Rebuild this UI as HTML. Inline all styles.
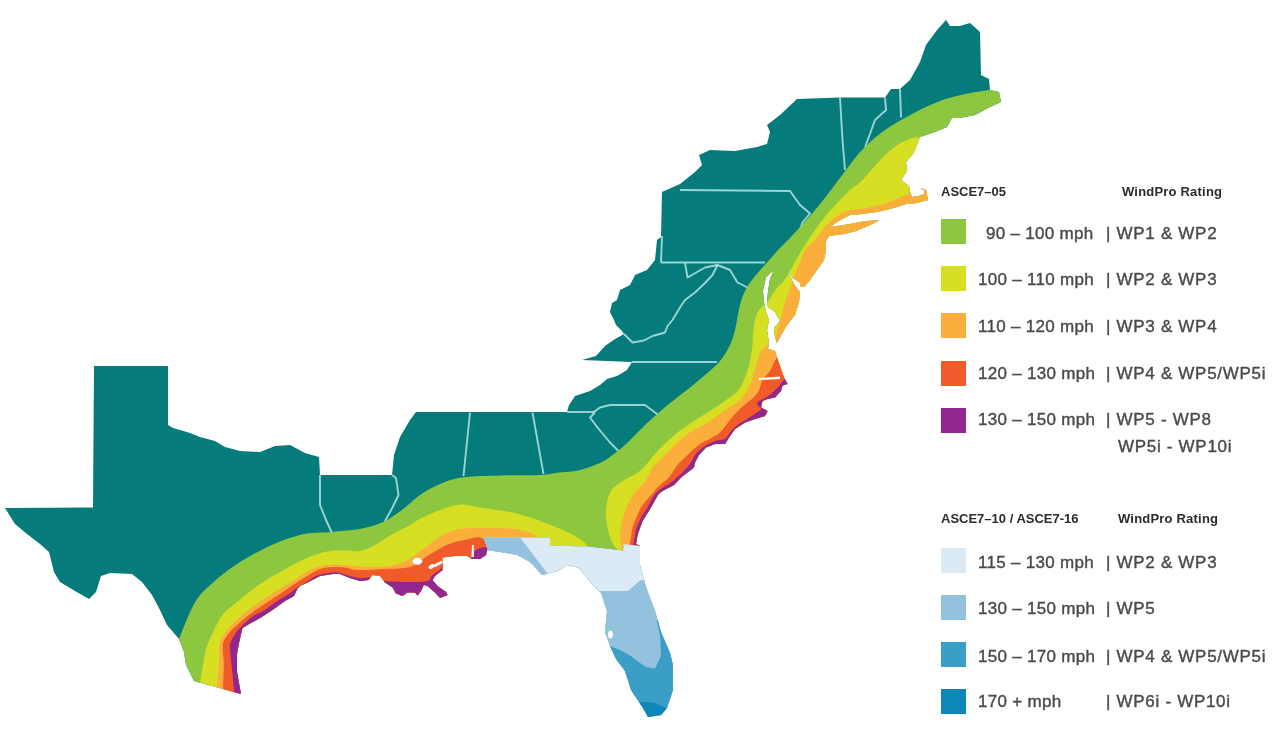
<!DOCTYPE html><html><head><meta charset="utf-8"><title>Wind zone map</title><style>
html,body{margin:0;padding:0;background:#fff}
body{width:1280px;height:746px;position:relative;overflow:hidden;font-family:"Liberation Sans",sans-serif;color:#4a4a4a}
.sw{position:absolute;left:941px;width:25px;height:25px;filter:blur(0.6px)}
.t{position:absolute;font-size:17px;line-height:20px;white-space:nowrap;letter-spacing:0.3px;filter:blur(0.7px);-webkit-text-stroke:0.4px #4a4a4a}
.r{letter-spacing:0.7px}
.h{position:absolute;font-size:13px;line-height:16px;font-weight:bold;color:#2b2b2b;white-space:nowrap;filter:blur(0.7px)}
</style></head><body>
<svg width="1280" height="746" viewBox="0 0 1280 746" style="position:absolute;left:0;top:0;filter:blur(0.55px)">
<defs><clipPath id="land"><path d="M94.0,366.0 L168.0,366.0 L168.0,425.0 L173.0,428.0 L180.0,430.0 L190.0,433.0 L200.0,437.0 L215.0,441.0 L225.0,447.0 L240.0,451.0 L260.0,452.0 L275.0,446.0 L290.0,445.0 L305.0,453.0 L319.0,457.0 L320.0,475.0 L392.0,475.0 L394.0,455.0 L400.0,437.0 L410.0,420.0 L416.0,412.0 L567.0,412.0 L569.0,405.0 L575.0,396.0 L590.0,391.0 L600.0,385.0 L607.0,379.0 L617.0,376.0 L627.0,370.0 L632.0,362.0 L582.0,360.0 L596.0,356.0 L605.0,346.0 L615.0,339.0 L624.0,334.0 L622.0,331.0 L616.0,325.0 L614.0,320.0 L610.0,312.0 L612.0,303.0 L617.0,300.0 L620.0,290.0 L630.0,285.0 L635.0,275.0 L647.0,270.0 L655.0,260.0 L657.0,240.0 L661.0,237.0 L662.0,192.0 L680.0,184.0 L695.0,172.0 L702.0,165.0 L699.0,155.0 L710.0,150.0 L735.0,151.0 L757.0,147.0 L767.0,144.0 L770.0,132.0 L767.0,125.0 L780.0,115.0 L797.0,99.0 L840.0,97.5 L885.0,97.5 L891.0,89.0 L900.0,89.0 L910.0,80.0 L920.0,62.0 L926.0,45.0 L937.0,30.0 L946.0,20.0 L950.0,26.0 L960.0,26.0 L970.0,23.0 L980.0,32.0 L981.0,75.0 L989.0,79.0 L990.0,90.0 L999.0,92.0 L1001.0,102.0 L990.0,107.0 L975.0,115.0 L960.0,118.0 L952.0,118.0 L947.0,127.0 L935.0,132.0 L920.0,137.0 L915.0,150.0 L912.0,155.0 L906.0,162.0 L907.0,171.0 L901.0,180.0 L909.0,186.0 L910.0,192.0 L912.0,197.0 L919.0,196.0 L924.0,194.0 L924.0,190.0 L920.0,188.0 L926.0,190.0 L928.0,200.0 L920.0,202.0 L912.0,204.0 L906.0,204.0 L900.0,206.0 L890.0,209.0 L877.0,212.0 L862.0,214.0 L850.0,215.0 L840.0,220.0 L834.0,224.0 L831.0,227.0 L850.0,224.0 L865.0,221.0 L879.0,220.5 L870.0,225.0 L856.0,231.0 L844.0,234.0 L829.0,236.0 L826.0,241.0 L826.0,250.0 L824.0,260.0 L817.0,270.0 L810.0,280.0 L804.0,287.0 L801.0,287.0 L800.0,283.0 L792.0,277.0 L786.0,267.0 L790.0,276.0 L795.0,286.0 L800.0,292.0 L799.0,302.0 L795.0,315.0 L787.0,325.0 L780.0,337.0 L777.0,343.0 L775.0,337.0 L774.0,328.0 L780.0,321.0 L775.0,312.0 L768.0,307.0 L767.0,302.0 L768.0,291.0 L770.0,279.0 L774.0,270.0 L766.0,277.0 L763.0,291.0 L764.0,302.0 L766.0,312.0 L769.0,320.0 L767.0,330.0 L769.0,343.0 L768.0,349.0 L775.0,351.0 L777.5,359.0 L781.0,369.0 L784.0,377.5 L787.5,384.0 L782.5,385.5 L781.0,391.0 L775.0,397.5 L767.5,399.0 L762.5,401.0 L761.0,407.5 L767.5,411.0 L765.0,416.0 L755.0,419.0 L745.0,422.5 L735.0,429.0 L729.0,437.5 L725.0,444.0 L715.0,444.0 L706.0,447.5 L699.0,455.0 L695.0,462.5 L694.0,467.5 L687.5,472.5 L681.0,477.5 L674.0,485.0 L662.5,491.0 L658.5,494.0 L650.0,509.0 L642.5,521.0 L637.5,535.0 L636.0,544.0 L640.0,546.0 L640.0,565.0 L646.0,587.0 L655.0,611.0 L661.0,632.0 L670.0,653.0 L673.0,665.0 L673.0,690.0 L667.0,708.0 L661.0,715.0 L648.0,717.0 L643.0,708.0 L631.0,690.0 L625.0,671.0 L616.0,659.0 L610.0,646.0 L605.0,632.0 L607.0,611.0 L601.0,593.0 L592.0,584.0 L579.0,568.0 L567.0,565.0 L558.0,571.0 L546.0,574.0 L542.0,575.0 L530.0,562.0 L517.0,555.0 L500.0,552.0 L487.0,550.0 L486.0,555.0 L480.0,559.0 L472.0,559.0 L467.0,556.0 L455.0,556.0 L442.5,557.5 L442.5,570.0 L435.0,576.0 L432.5,580.0 L437.5,586.0 L446.0,592.0 L447.5,595.0 L440.0,598.0 L435.0,592.5 L427.5,586.0 L423.8,585.0 L421.0,591.0 L417.5,595.5 L415.0,592.5 L407.5,592.5 L402.5,596.0 L396.0,593.5 L392.5,587.5 L385.0,582.5 L380.0,576.0 L372.5,575.0 L368.5,580.0 L360.0,581.0 L350.0,578.0 L340.0,574.0 L332.5,574.0 L320.0,576.0 L307.5,582.5 L300.0,586.0 L297.5,588.5 L294.0,596.0 L285.0,601.0 L272.5,610.0 L261.0,617.5 L250.0,623.5 L242.5,628.0 L239.0,643.0 L237.0,654.0 L237.0,672.0 L241.0,694.0 L194.0,681.0 L186.0,665.0 L184.0,652.0 L179.0,639.0 L167.0,625.0 L160.0,610.0 L152.0,595.0 L142.0,582.0 L132.0,574.0 L110.0,573.0 L101.0,576.0 L96.0,592.0 L89.0,599.0 L75.0,591.0 L60.0,582.0 L54.0,572.0 L49.0,552.0 L40.0,544.0 L27.0,534.0 L15.0,524.0 L5.0,508.0 L93.0,507.5Z"/></clipPath><clipPath id="nofl"><path clip-rule="evenodd" d="M0,0H1280V746H0Z M483.5,537.5 L550.0,537.5 L550.0,545.5 L587.5,546.5 L619.0,550.0 L623.0,551.0 L623.5,544.0 L640.0,546.0 L700.0,546.0 L700.0,745.0 L492.0,745.0 L490.0,560.0 L487.5,548.5Z"/></clipPath></defs>
<g id="map">
<path d="M94.0,366.0 L168.0,366.0 L168.0,425.0 L173.0,428.0 L180.0,430.0 L190.0,433.0 L200.0,437.0 L215.0,441.0 L225.0,447.0 L240.0,451.0 L260.0,452.0 L275.0,446.0 L290.0,445.0 L305.0,453.0 L319.0,457.0 L320.0,475.0 L392.0,475.0 L394.0,455.0 L400.0,437.0 L410.0,420.0 L416.0,412.0 L567.0,412.0 L569.0,405.0 L575.0,396.0 L590.0,391.0 L600.0,385.0 L607.0,379.0 L617.0,376.0 L627.0,370.0 L632.0,362.0 L582.0,360.0 L596.0,356.0 L605.0,346.0 L615.0,339.0 L624.0,334.0 L622.0,331.0 L616.0,325.0 L614.0,320.0 L610.0,312.0 L612.0,303.0 L617.0,300.0 L620.0,290.0 L630.0,285.0 L635.0,275.0 L647.0,270.0 L655.0,260.0 L657.0,240.0 L661.0,237.0 L662.0,192.0 L680.0,184.0 L695.0,172.0 L702.0,165.0 L699.0,155.0 L710.0,150.0 L735.0,151.0 L757.0,147.0 L767.0,144.0 L770.0,132.0 L767.0,125.0 L780.0,115.0 L797.0,99.0 L840.0,97.5 L885.0,97.5 L891.0,89.0 L900.0,89.0 L910.0,80.0 L920.0,62.0 L926.0,45.0 L937.0,30.0 L946.0,20.0 L950.0,26.0 L960.0,26.0 L970.0,23.0 L980.0,32.0 L981.0,75.0 L989.0,79.0 L990.0,90.0 L999.0,92.0 L1001.0,102.0 L990.0,107.0 L975.0,115.0 L960.0,118.0 L952.0,118.0 L947.0,127.0 L935.0,132.0 L920.0,137.0 L915.0,150.0 L912.0,155.0 L906.0,162.0 L907.0,171.0 L901.0,180.0 L909.0,186.0 L910.0,192.0 L912.0,197.0 L919.0,196.0 L924.0,194.0 L924.0,190.0 L920.0,188.0 L926.0,190.0 L928.0,200.0 L920.0,202.0 L912.0,204.0 L906.0,204.0 L900.0,206.0 L890.0,209.0 L877.0,212.0 L862.0,214.0 L850.0,215.0 L840.0,220.0 L834.0,224.0 L831.0,227.0 L850.0,224.0 L865.0,221.0 L879.0,220.5 L870.0,225.0 L856.0,231.0 L844.0,234.0 L829.0,236.0 L826.0,241.0 L826.0,250.0 L824.0,260.0 L817.0,270.0 L810.0,280.0 L804.0,287.0 L801.0,287.0 L800.0,283.0 L792.0,277.0 L786.0,267.0 L790.0,276.0 L795.0,286.0 L800.0,292.0 L799.0,302.0 L795.0,315.0 L787.0,325.0 L780.0,337.0 L777.0,343.0 L775.0,337.0 L774.0,328.0 L780.0,321.0 L775.0,312.0 L768.0,307.0 L767.0,302.0 L768.0,291.0 L770.0,279.0 L774.0,270.0 L766.0,277.0 L763.0,291.0 L764.0,302.0 L766.0,312.0 L769.0,320.0 L767.0,330.0 L769.0,343.0 L768.0,349.0 L775.0,351.0 L777.5,359.0 L781.0,369.0 L784.0,377.5 L787.5,384.0 L782.5,385.5 L781.0,391.0 L775.0,397.5 L767.5,399.0 L762.5,401.0 L761.0,407.5 L767.5,411.0 L765.0,416.0 L755.0,419.0 L745.0,422.5 L735.0,429.0 L729.0,437.5 L725.0,444.0 L715.0,444.0 L706.0,447.5 L699.0,455.0 L695.0,462.5 L694.0,467.5 L687.5,472.5 L681.0,477.5 L674.0,485.0 L662.5,491.0 L658.5,494.0 L650.0,509.0 L642.5,521.0 L637.5,535.0 L636.0,544.0 L640.0,546.0 L640.0,565.0 L646.0,587.0 L655.0,611.0 L661.0,632.0 L670.0,653.0 L673.0,665.0 L673.0,690.0 L667.0,708.0 L661.0,715.0 L648.0,717.0 L643.0,708.0 L631.0,690.0 L625.0,671.0 L616.0,659.0 L610.0,646.0 L605.0,632.0 L607.0,611.0 L601.0,593.0 L592.0,584.0 L579.0,568.0 L567.0,565.0 L558.0,571.0 L546.0,574.0 L542.0,575.0 L530.0,562.0 L517.0,555.0 L500.0,552.0 L487.0,550.0 L486.0,555.0 L480.0,559.0 L472.0,559.0 L467.0,556.0 L455.0,556.0 L442.5,557.5 L442.5,570.0 L435.0,576.0 L432.5,580.0 L437.5,586.0 L446.0,592.0 L447.5,595.0 L440.0,598.0 L435.0,592.5 L427.5,586.0 L423.8,585.0 L421.0,591.0 L417.5,595.5 L415.0,592.5 L407.5,592.5 L402.5,596.0 L396.0,593.5 L392.5,587.5 L385.0,582.5 L380.0,576.0 L372.5,575.0 L368.5,580.0 L360.0,581.0 L350.0,578.0 L340.0,574.0 L332.5,574.0 L320.0,576.0 L307.5,582.5 L300.0,586.0 L297.5,588.5 L294.0,596.0 L285.0,601.0 L272.5,610.0 L261.0,617.5 L250.0,623.5 L242.5,628.0 L239.0,643.0 L237.0,654.0 L237.0,672.0 L241.0,694.0 L194.0,681.0 L186.0,665.0 L184.0,652.0 L179.0,639.0 L167.0,625.0 L160.0,610.0 L152.0,595.0 L142.0,582.0 L132.0,574.0 L110.0,573.0 L101.0,576.0 L96.0,592.0 L89.0,599.0 L75.0,591.0 L60.0,582.0 L54.0,572.0 L49.0,552.0 L40.0,544.0 L27.0,534.0 L15.0,524.0 L5.0,508.0 L93.0,507.5Z" fill="#057c7b"/>
<g fill="none" stroke="#b0dfe0" stroke-width="1.9" stroke-opacity="0.88" stroke-linejoin="round">
<path d="M320.0,475.0 L320.0,505.0 L326.0,520.0 L332.0,533.0"/>
<path d="M392.0,475.0 L396.0,478.0 L398.5,495.0 L392.5,507.5 L385.0,521.0"/>
<path d="M470.0,412.5 L463.5,476.0"/>
<path d="M532.5,412.5 L543.5,474.0"/>
<path d="M595.0,412.5 L590.0,417.5 L597.5,427.5 L610.0,442.5 L617.5,450.0 L622.0,452.0"/>
<path d="M592.5,413.0 L600.0,407.5 L610.0,405.0 L645.0,405.0 L655.0,412.5 L660.0,416.0"/>
<path d="M632.0,362.0 L717.0,362.0"/>
<path d="M567.0,412.0 L595.0,412.0"/>
<path d="M624.0,334.0 L632.5,342.5 L644.0,340.5 L652.5,336.0 L665.0,332.5 L667.5,326.0 L672.5,320.0 L680.0,307.5 L685.0,300.0 L695.0,292.5 L705.0,283.0 L712.5,275.0 L717.5,265.0"/>
<path d="M685.0,262.5 L687.5,277.5 L705.0,267.5 L717.5,265.0 L730.0,270.0 L737.5,282.5 L747.5,287.5"/>
<path d="M661.0,262.5 L765.0,262.5"/>
<path d="M662.0,236.0 L661.0,262.5"/>
<path d="M680.0,190.0 L790.0,191.0 L800.0,205.0 L810.0,213.5 L802.5,222.5 L798.0,235.0"/>
<path d="M840.0,97.5 L842.5,140.0 L845.0,170.0"/>
<path d="M885.0,97.5 L886.0,110.0 L875.0,120.0 L865.0,147.5"/>
<path d="M900.0,89.0 L901.0,117.5"/>
</g>
<g clip-path="url(#land)">
<g clip-path="url(#nofl)">
<path d="M176.0,644.0 C176.5,643.2 177.5,642.3 179.0,639.0 C180.5,635.7 182.8,629.2 185.0,624.0 C187.2,618.8 189.5,612.8 192.0,608.0 C194.5,603.2 196.6,599.2 200.0,595.0 C203.4,590.8 208.3,586.8 212.5,583.0 C216.7,579.2 220.0,576.2 225.0,572.5 C230.0,568.8 236.2,564.3 242.5,560.5 C248.8,556.7 256.1,552.8 262.5,549.5 C268.9,546.2 274.8,543.4 281.0,541.0 C287.2,538.6 294.8,536.3 300.0,535.0 C305.2,533.7 307.3,533.5 312.5,533.0 C317.7,532.5 322.8,532.8 331.0,532.0 C339.2,531.2 353.0,530.3 362.0,528.5 C371.0,526.7 377.8,524.5 385.0,521.0 C392.2,517.5 399.2,511.8 405.0,507.5 C410.8,503.2 414.2,498.9 420.0,495.0 C425.8,491.1 433.0,486.9 440.0,484.0 C447.0,481.1 452.0,478.9 462.0,477.5 C472.0,476.1 487.0,475.9 500.0,475.5 C513.0,475.1 530.0,475.5 540.0,475.0 C550.0,474.5 553.7,473.2 560.0,472.5 C566.3,471.8 572.2,471.8 578.0,470.5 C583.8,469.2 590.2,466.9 595.0,465.0 C599.8,463.1 602.0,462.3 607.0,459.0 C612.0,455.7 619.5,449.8 625.0,445.0 C630.5,440.2 634.8,435.0 640.0,430.0 C645.2,425.0 650.3,420.0 656.0,415.0 C661.7,410.0 668.3,404.6 674.0,400.0 C679.7,395.4 684.8,391.7 690.0,387.5 C695.2,383.3 700.0,379.4 705.0,375.0 C710.0,370.6 715.8,366.0 720.0,361.0 C724.2,356.0 727.5,350.2 730.0,345.0 C732.5,339.8 733.3,336.7 735.0,330.0 C736.7,323.3 738.2,311.8 740.0,305.0 C741.8,298.2 743.3,294.0 746.0,289.0 C748.7,284.0 752.5,279.4 756.0,275.0 C759.5,270.6 763.3,266.7 767.0,262.5 C770.7,258.3 774.5,253.8 778.0,250.0 C781.5,246.2 784.0,244.2 788.0,240.0 C792.0,235.8 797.3,230.2 802.0,225.0 C806.7,219.8 811.2,214.8 816.0,209.0 C820.8,203.2 826.0,196.5 831.0,190.0 C836.0,183.5 840.8,176.7 846.0,170.0 C851.2,163.3 855.5,156.7 862.0,150.0 C868.5,143.3 876.2,136.2 885.0,130.0 C893.8,123.8 905.8,117.3 915.0,112.5 C924.2,107.7 931.7,104.1 940.0,101.0 C948.3,97.9 956.7,95.8 965.0,94.0 C973.3,92.2 982.5,91.0 990.0,90.0 C997.5,89.0 1006.7,88.3 1010.0,88.0 L1279.0,88.0 L1279.0,745.0 L176.0,745.0Z" fill="#8dc63f"/>
<path d="M200.0,690.0 C200.1,688.3 200.0,684.2 200.5,680.0 C201.0,675.8 201.9,670.7 203.0,665.0 C204.1,659.3 204.8,652.5 207.0,646.0 C209.2,639.5 213.2,631.5 216.0,626.0 C218.8,620.5 220.7,616.8 224.0,613.0 C227.3,609.2 232.0,606.3 236.0,603.0 C240.0,599.7 243.5,596.5 248.0,593.0 C252.5,589.5 257.3,585.7 263.0,582.0 C268.7,578.3 276.0,574.4 282.0,571.0 C288.0,567.6 293.3,564.2 299.0,561.5 C304.7,558.8 310.4,556.3 316.0,554.5 C321.6,552.7 327.2,551.2 332.5,550.5 C337.8,549.8 343.4,550.4 348.0,550.5 C352.6,550.6 355.5,551.9 360.0,551.0 C364.5,550.1 369.8,547.7 375.0,545.0 C380.2,542.3 385.2,538.3 391.0,535.0 C396.8,531.7 405.2,527.7 410.0,525.0 C414.8,522.3 415.0,521.5 420.0,519.0 C425.0,516.5 433.3,512.4 440.0,510.0 C446.7,507.6 453.3,504.9 460.0,504.5 C466.7,504.1 471.2,506.2 480.0,507.5 C488.8,508.8 502.9,510.4 512.5,512.5 C522.1,514.6 529.2,517.1 537.5,520.0 C545.8,522.9 555.8,527.1 562.5,530.0 C569.2,532.9 573.3,534.8 577.5,537.5 C581.7,540.2 585.1,542.2 587.5,546.0 C589.9,549.8 589.2,556.7 592.0,560.0 C594.8,563.3 600.0,566.0 604.0,566.0 C608.0,566.0 613.6,562.5 616.0,560.0 C618.4,557.5 618.9,553.5 618.5,551.0 C618.1,548.5 615.2,548.1 613.5,545.0 C611.8,541.9 609.8,537.5 608.5,532.5 C607.2,527.5 606.2,520.4 606.0,515.0 C605.8,509.6 606.4,504.3 607.5,500.0 C608.6,495.7 610.0,492.2 612.5,489.0 C615.0,485.8 617.8,484.2 622.5,481.0 C627.2,477.8 635.0,475.2 641.0,470.0 C647.0,464.8 652.4,456.2 658.5,450.0 C664.6,443.8 671.6,437.3 677.5,432.5 C683.4,427.7 688.6,424.6 694.0,421.0 C699.4,417.4 705.0,414.2 710.0,411.0 C715.0,407.8 719.4,404.8 724.0,401.5 C728.6,398.2 734.0,395.0 737.5,391.0 C741.0,387.0 742.9,382.5 745.0,377.5 C747.1,372.5 748.8,366.4 750.0,361.0 C751.2,355.6 751.9,350.2 752.5,345.0 C753.1,339.8 752.7,335.4 753.5,330.0 C754.3,324.6 754.9,317.5 757.5,312.5 C760.1,307.5 765.9,303.9 769.0,300.0 C772.1,296.1 773.7,292.0 776.0,289.0 C778.3,286.0 780.7,285.0 783.0,282.0 C785.3,279.0 787.8,274.7 790.0,271.0 C792.2,267.3 793.5,264.3 796.0,260.0 C798.5,255.7 801.8,250.0 805.0,245.0 C808.2,240.0 811.2,235.2 815.0,230.0 C818.8,224.8 823.3,218.8 827.5,213.8 C831.7,208.8 836.2,204.0 840.0,200.0 C843.8,196.0 846.7,192.9 850.0,190.0 C853.3,187.1 856.2,186.0 860.0,182.5 C863.8,179.0 868.3,173.3 872.5,168.8 C876.7,164.2 880.8,159.0 885.0,155.0 C889.2,151.0 893.3,147.7 897.5,145.0 C901.7,142.3 906.2,140.1 910.0,138.8 C913.8,137.4 915.0,138.1 920.0,137.0 C925.0,135.9 936.7,132.8 940.0,132.0 L1279.0,132.0 L1279.0,745.0 L200.0,745.0Z" fill="#d7df23"/>
<path d="M217.0,695.0 C217.0,694.0 216.7,694.0 217.0,689.0 C217.3,684.0 218.5,672.8 219.0,665.0 C219.5,657.2 218.5,648.0 220.0,642.0 C221.5,636.0 225.0,632.8 228.0,629.0 C231.0,625.2 234.1,622.6 238.0,619.0 C241.9,615.4 246.8,611.1 251.5,607.5 C256.2,603.9 261.5,600.8 266.5,597.5 C271.5,594.2 276.8,590.4 281.5,587.5 C286.2,584.6 290.4,582.6 294.5,580.0 C298.6,577.4 301.8,574.3 306.0,572.0 C310.2,569.7 315.6,567.2 320.0,566.0 C324.4,564.8 328.3,564.7 332.5,564.5 C336.7,564.3 340.4,564.7 345.0,565.0 C349.6,565.3 353.3,566.2 360.0,566.5 C366.7,566.8 377.9,567.2 385.0,566.5 C392.1,565.8 397.5,564.4 402.5,562.5 C407.5,560.6 410.4,558.1 415.0,555.0 C419.6,551.9 425.0,547.3 430.0,543.8 C435.0,540.2 440.0,536.2 445.0,533.8 C450.0,531.3 454.2,530.0 460.0,529.0 C465.8,528.0 473.3,528.2 480.0,528.0 C486.7,527.8 493.3,527.7 500.0,528.0 C506.7,528.3 514.2,528.8 520.0,530.0 C525.8,531.2 530.8,532.0 535.0,535.0 C539.2,538.0 537.5,541.3 545.0,548.0 C552.5,554.7 568.8,571.3 580.0,575.0 C591.2,578.7 605.2,574.0 612.0,570.0 C618.8,566.0 619.7,556.8 621.0,551.0 C622.3,545.2 619.8,540.2 620.0,535.0 C620.2,529.8 621.2,525.0 622.5,520.0 C623.8,515.0 625.4,509.6 627.5,505.0 C629.6,500.4 632.1,496.5 635.0,492.5 C637.9,488.5 642.1,485.2 645.0,481.0 C647.9,476.8 649.2,471.8 652.5,467.5 C655.8,463.2 660.6,459.4 665.0,455.0 C669.4,450.6 674.0,445.2 678.8,441.0 C683.5,436.8 688.5,433.3 693.8,430.0 C699.0,426.7 704.8,424.3 710.0,421.0 C715.2,417.7 720.0,413.5 725.0,410.0 C730.0,406.5 735.8,404.2 740.0,400.0 C744.2,395.8 747.7,389.4 750.0,385.0 C752.3,380.6 752.5,377.8 753.8,373.8 C755.0,369.8 756.3,364.8 757.5,361.0 C758.7,357.2 759.2,353.8 761.0,351.0 C762.8,348.2 765.7,346.2 768.0,344.0 C770.3,341.8 773.2,340.7 775.0,337.5 C776.8,334.3 777.8,328.3 778.8,325.0 C779.8,321.7 780.0,321.2 781.0,317.5 C782.0,313.8 783.5,307.3 785.0,302.5 C786.5,297.7 788.3,293.5 790.0,288.8 C791.7,284.0 793.3,278.1 795.0,273.8 C796.7,269.4 798.3,266.5 800.0,262.5 C801.7,258.5 802.5,253.8 805.0,250.0 C807.5,246.2 812.1,243.3 815.0,240.0 C817.9,236.7 819.8,233.2 822.5,230.0 C825.2,226.8 827.9,223.7 831.0,221.0 C834.1,218.3 837.8,215.6 841.0,213.8 C844.2,211.9 846.4,210.8 850.0,210.0 C853.6,209.2 858.3,209.4 862.5,208.8 C866.7,208.1 870.8,207.0 875.0,206.0 C879.2,205.0 883.3,203.9 887.5,202.5 C891.7,201.1 896.2,199.2 900.0,197.5 C903.8,195.8 905.8,194.6 910.0,192.5 C914.2,190.4 919.2,187.1 925.0,185.0 C930.8,182.9 941.7,180.8 945.0,180.0 L1279.0,180.0 L1279.0,745.0 L217.0,745.0Z" fill="#fbae3c"/>
<path d="M223.0,697.0 C223.0,696.0 222.7,696.3 222.8,691.0 C222.9,685.7 223.8,672.8 223.8,665.0 C223.8,657.2 222.0,649.5 223.0,644.0 C224.0,638.5 227.2,635.6 230.0,632.0 C232.8,628.4 236.1,625.9 240.0,622.5 C243.9,619.1 248.8,615.0 253.5,611.5 C258.2,608.0 263.5,604.8 268.5,601.5 C273.5,598.2 278.9,594.6 283.5,591.5 C288.1,588.4 291.9,585.7 296.0,583.0 C300.1,580.3 304.0,577.8 308.0,575.5 C312.0,573.2 315.9,570.4 320.0,569.0 C324.1,567.6 328.3,567.2 332.5,567.0 C336.7,566.8 340.8,567.0 345.0,567.5 C349.2,568.0 350.8,569.8 357.5,570.0 C364.2,570.2 376.2,569.5 385.0,569.0 C393.8,568.5 403.3,568.9 410.0,567.0 C416.7,565.1 420.4,560.3 425.0,557.5 C429.6,554.7 433.3,552.3 437.5,550.0 C441.7,547.7 445.4,545.4 450.0,543.8 C454.6,542.1 459.5,540.9 465.0,540.0 C470.5,539.1 477.2,535.2 483.0,538.5 C488.8,541.8 483.8,552.2 500.0,560.0 C516.2,567.8 559.7,582.5 580.0,585.0 C600.3,587.5 613.7,582.1 622.0,575.0 C630.3,567.9 628.2,550.4 630.0,542.5 C631.8,534.6 631.2,532.1 632.5,527.5 C633.8,522.9 635.8,518.8 637.5,515.0 C639.2,511.2 640.0,508.5 642.5,505.0 C645.0,501.5 650.0,496.7 652.5,493.8 C655.0,490.8 654.8,490.2 657.5,487.5 C660.2,484.8 665.4,481.2 668.8,477.5 C672.1,473.8 674.4,468.8 677.5,465.0 C680.6,461.2 684.0,458.3 687.5,455.0 C691.0,451.7 695.0,447.7 698.8,445.0 C702.5,442.3 706.5,440.8 710.0,438.8 C713.5,436.7 716.7,435.6 720.0,432.5 C723.3,429.4 726.7,424.0 730.0,420.0 C733.3,416.0 735.8,412.8 740.0,408.8 C744.2,404.8 751.7,399.5 755.0,396.0 C758.3,392.5 758.8,390.2 760.0,387.5 C761.2,384.8 760.8,382.8 762.5,380.0 C764.2,377.2 767.8,374.5 770.0,371.0 C772.2,367.5 774.0,361.9 776.0,358.8 C778.0,355.6 778.0,354.3 782.0,352.0 C786.0,349.7 797.0,346.2 800.0,345.0 L1279.0,345.0 L1279.0,745.0 L223.0,745.0Z" fill="#f15a29"/>
<path d="M234.0,697.0 C234.0,696.0 234.3,695.7 234.0,691.0 C233.7,686.3 232.7,675.8 232.0,669.0 C231.3,662.2 230.2,654.3 230.0,650.0 C229.8,645.7 229.7,645.7 230.5,643.0 C231.3,640.3 233.2,636.8 235.0,634.0 C236.8,631.2 238.6,629.4 241.5,626.5 C244.4,623.6 248.8,619.2 252.5,616.5 C256.2,613.8 260.0,613.0 264.0,610.5 C268.0,608.0 272.4,604.2 276.5,601.5 C280.6,598.8 284.9,596.4 288.5,594.0 C292.1,591.6 295.2,588.8 298.0,587.0 C300.8,585.2 302.2,584.8 305.0,583.0 C307.8,581.2 311.7,578.1 315.0,576.5 C318.3,574.9 321.2,574.2 325.0,573.5 C328.8,572.8 333.3,572.1 337.5,572.5 C341.7,572.9 346.2,575.1 350.0,576.0 C353.8,576.9 356.7,577.8 360.0,578.0 C363.3,578.2 367.0,577.5 370.0,577.5 C373.0,577.5 375.5,577.4 378.0,578.0 C380.5,578.6 379.7,580.3 385.0,581.0 C390.3,581.7 402.9,582.0 410.0,582.0 C417.1,582.0 423.8,582.2 427.5,581.0 C431.2,579.8 430.2,577.0 432.5,575.0 C434.8,573.0 438.9,571.2 441.0,568.8 C443.1,566.2 441.8,561.5 445.0,560.0 C448.2,558.5 455.8,560.0 460.0,560.0 C464.2,560.0 467.5,561.5 470.0,560.0 C472.5,558.5 472.1,552.9 475.0,551.0 C477.9,549.1 483.3,545.3 487.5,548.5 C491.7,551.7 484.6,563.1 500.0,570.0 C515.4,576.9 559.2,588.3 580.0,590.0 C600.8,591.7 616.0,587.9 625.0,580.0 C634.0,572.1 631.9,550.8 633.8,542.5 C635.6,534.2 634.8,534.2 636.0,530.0 C637.2,525.8 639.1,521.2 641.0,517.5 C642.9,513.8 645.0,511.6 647.5,507.5 C650.0,503.4 652.1,497.2 656.0,493.0 C659.9,488.8 666.8,485.7 671.0,482.5 C675.2,479.3 677.8,476.9 681.0,473.8 C684.2,470.6 687.5,467.1 690.0,463.8 C692.5,460.4 693.5,456.7 696.0,453.8 C698.5,450.8 701.8,448.1 705.0,446.0 C708.2,443.9 711.7,442.2 715.0,441.0 C718.3,439.8 722.5,440.2 725.0,438.8 C727.5,437.3 727.9,434.8 730.0,432.5 C732.1,430.2 734.6,427.3 737.5,425.0 C740.4,422.7 744.6,420.6 747.5,418.8 C750.4,416.9 752.8,415.4 755.0,413.8 C757.2,412.1 760.7,410.5 761.0,408.8 C761.3,407.0 756.2,404.9 757.0,403.0 C757.8,401.1 763.4,399.2 766.0,397.5 C768.6,395.8 770.2,394.6 772.5,392.5 C774.8,390.4 778.1,387.1 780.0,385.0 C781.9,382.9 781.2,382.2 783.8,380.0 C786.2,377.8 790.6,374.0 795.0,372.0 C799.4,370.0 807.5,368.7 810.0,368.0 L1279.0,368.0 L1279.0,745.0 L234.0,745.0Z" fill="#92278f"/>
</g>
<path d="M483.5,537.5 L550.0,537.5 L550.0,545.5 L587.5,546.5 L619.0,550.0 L623.0,551.0 L623.5,544.0 L640.0,546.0 L700.0,546.0 L700.0,745.0 L492.0,745.0 L490.0,560.0 L487.5,548.5Z" fill="#dceaf5"/>
<path d="M483.5,537.5 L520.0,537.5 L551.0,578.0 L492.0,600.0 L490.0,560.0 L487.5,548.5Z" fill="#93c1de"/>
<path d="M560.0,591.0 L628.0,591.0 L640.0,580.5 L700.0,575.0 L700.0,745.0 L560.0,745.0Z" fill="#93c1de"/>
<path d="M560.0,640.0 L610.0,646.0 L620.0,650.0 L631.0,656.0 L640.0,663.0 L646.0,667.0 L655.0,668.5 L661.0,656.0 L660.0,635.0 L656.5,620.0 L700.0,615.0 L700.0,745.0 L560.0,745.0Z" fill="#3b9ec7"/>
<path d="M600.0,700.0 L644.5,702.0 L655.0,703.0 L666.0,708.0 L700.0,708.0 L700.0,745.0 L600.0,745.0Z" fill="#0f86ba"/>
</g>
<g fill="#fff">
<ellipse cx="417.5" cy="561.2" rx="4.8" ry="3.5"/><ellipse cx="431.5" cy="566.5" rx="3.2" ry="2" transform="rotate(-35 431.5 566.5)"/><path d="M433,565 L442,560.5 L442.5,563 L435,567.5Z"/>
<path d="M472,545 L473.5,545 L474,557 L471.5,557Z"/>
<path d="M759,378 L780,376.5 L780,379 L759,380Z"/>
<ellipse cx="610.5" cy="634.5" rx="2.4" ry="4"/>
</g>
</g>
</svg>
<div class="h" style="left:941px;top:184px">ASCE7–05</div>
<div class="h" style="left:1122px;top:184px;letter-spacing:0.2px">WindPro Rating</div>
<div class="sw" style="top:219px;background:#8dc63f"></div>
<div class="t" style="left:986px;top:224.4px">90 – 100 mph</div>
<div class="t r" style="left:1106px;top:224.4px">| WP1 &amp; WP2</div>
<div class="sw" style="top:266px;background:#d7df23"></div>
<div class="t" style="left:978px;top:270.4px">100 – 110 mph</div>
<div class="t r" style="left:1106px;top:270.4px">| WP2 &amp; WP3</div>
<div class="sw" style="top:313px;background:#fbae3c"></div>
<div class="t" style="left:978px;top:317.4px">110 – 120 mph</div>
<div class="t r" style="left:1106px;top:317.4px">| WP3 &amp; WP4</div>
<div class="sw" style="top:361px;background:#f15a29"></div>
<div class="t" style="left:978px;top:364.0px">120 – 130 mph</div>
<div class="t r" style="left:1106px;top:364.0px">| WP4 &amp; WP5/WP5i</div>
<div class="sw" style="top:408px;background:#92278f"></div>
<div class="t" style="left:978px;top:410.4px">130 – 150 mph</div>
<div class="t r" style="left:1106px;top:410.4px">| WP5 - WP8</div>
<div class="sw" style="top:547.5px;background:#dceaf5"></div>
<div class="t" style="left:978px;top:552.5px">115 – 130 mph</div>
<div class="t r" style="left:1106px;top:552.5px">| WP2 &amp; WP3</div>
<div class="sw" style="top:594.5px;background:#93c1de"></div>
<div class="t" style="left:978px;top:599.0px">130 – 150 mph</div>
<div class="t r" style="left:1106px;top:599.0px">| WP5</div>
<div class="sw" style="top:642px;background:#3b9ec7"></div>
<div class="t" style="left:978px;top:646.5px">150 – 170 mph</div>
<div class="t r" style="left:1106px;top:646.5px">| WP4 &amp; WP5/WP5i</div>
<div class="sw" style="top:689px;background:#0f86ba"></div>
<div class="t" style="left:978px;top:692.3px">170 + mph</div>
<div class="t r" style="left:1106px;top:692.3px">| WP6i - WP10i</div>
<div class="t r" style="left:1118px;top:437.2px">WP5i - WP10i</div>
<div class="h" style="left:941px;top:510.7px">ASCE7–10 / ASCE7-16</div>
<div class="h" style="left:1118px;top:510.7px;letter-spacing:0.2px">WindPro Rating</div>
</body></html>
